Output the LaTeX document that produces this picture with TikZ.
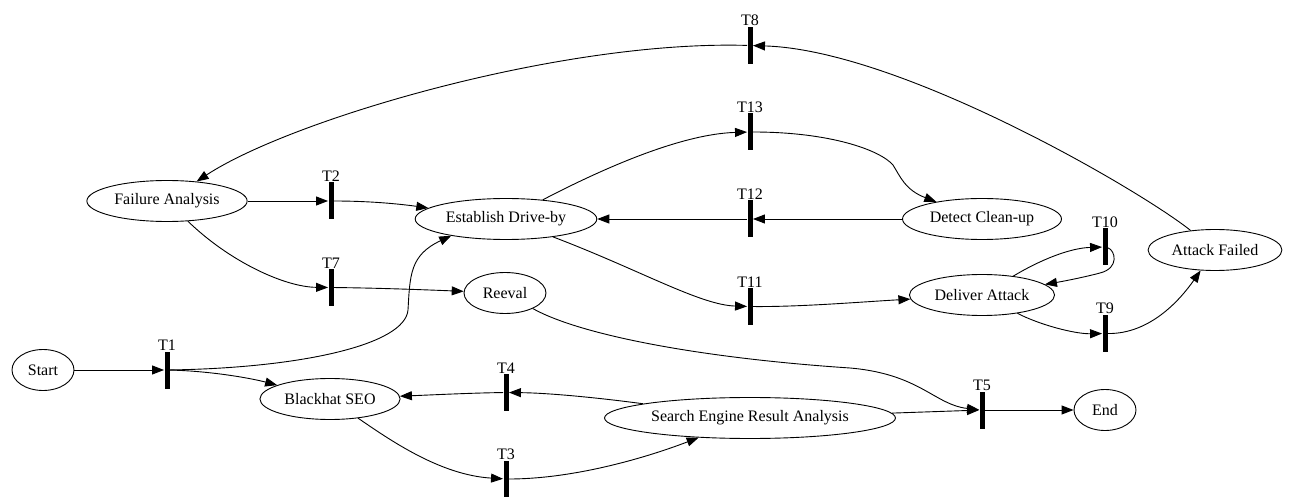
\documentclass[tikz,border=0pt]{standalone}
\usepackage{fontspec}
\setmainfont{Liberation Serif}
\usetikzlibrary{arrows.meta,shapes.geometric}
\tikzset{%
  >={Triangle[length=12pt,width=9pt]},
  % places and transitions of the net
  place/.style = {ellipse, draw=black, inner xsep=4pt, inner ysep=0pt,
    minimum width=62pt, minimum height=41pt},
  trans/.style = {rectangle, fill=black, draw=none, inner sep=0pt,
    minimum width=5pt, minimum height=37pt, label distance=7pt},
}

\begin{document}
\begin{tikzpicture}[x=1pt, y=-1pt, line width=0.9pt,
          every node/.style={font=\fontsize{16}{19}\selectfont},
          every label/.style={inner sep=0pt}]
        \useasboundingbox (0,0) rectangle (1294,497);
        % places
        \node(Start)[place] at (43,370){Start};
        \node(FailAn)[place] at (167,201){Failure Analysis};
        \node(DriveBy)[place] at (506,219){Establish Drive-by};
        \node(Reeval)[place,minimum width=82pt] at (505,293){Reeval};
        \node(Detect)[place] at (982,219){Detect Clean-up};
        \node(Deliver)[place] at (982,295){Deliver Attack};
        \node(AttFail)[place] at (1215,250){Attack Failed};
        \node(Seo)[place] at (330,399){Blackhat SEO};
        \node(Sera)[place] at (750,418){Search Engine Result Analysis};
        \node(End)[place] at (1105,410){End};
        % transitions
        \node(T1)[trans,label=above:T1] at (167,370){};
        \node(T2)[trans,label=above:T2] at (331,201){};
        \node(T3)[trans,label=above:T3] at (506,479){};
        \node(T4)[trans,label=above:T4] at (506,392.5){};
        \node(T5)[trans,label=above:T5] at (982,410){};
        \node(T7)[trans,label=above:T7] at (331,287.5){};
        \node(T8)[trans,label=above:T8] at (750,45.5){};
        \node(T9)[trans,label=above:T9] at (1105,333.5){};
        \node(T10)[trans,label=above:T10] at (1105,247){};
        \node(T11)[trans,label=above:T11] at (750,306.5){};
        \node(T12)[trans,label=above:T12] at (750,219){};
        \node(T13)[trans,label=above:T13] at (750,132){};
        % arcs
        \draw[->](Start) -- (T1);
        \draw[->](T1) .. controls (210,371) and (250,378) .. (Seo);
        \draw[->](T1) .. controls (300,368) and (405,345) .. (408,310)
          .. controls (410,275) and (410,255) .. (DriveBy.197);
        \draw[->](FailAn) -- (T2);
        \draw[->](FailAn) .. controls (230,262) and (285,287) .. (T7);
        \draw[->](T2) .. controls (370,201) and (400,204) .. (DriveBy);
        \draw[->](T7) .. controls (380,288) and (430,290) .. (Reeval);
        \draw[->](DriveBy) .. controls (600,170) and (680,134) .. (T13);
        \draw[->](T13) .. controls (830,132) and (880,150) .. (893,165)
          .. controls (900,176) and (905,190) .. (Detect);
        \draw[->](Detect) -- (T12);
        \draw[->](T12) -- (DriveBy);
        \draw[->](DriveBy) .. controls (640,270) and (700,305) .. (T11);
        \draw[->](T11) .. controls (800,307) and (860,302) .. (Deliver);
        \draw[->](Deliver) .. controls (1040,260) and (1070,248) .. (T10);
        \draw[->](T10) .. controls (1115,250) and (1120,268) .. (1100,273)
          .. controls (1085,277) and (1065,281) .. (Deliver);
        \draw[->](Deliver) .. controls (1040,325) and (1075,334) .. (T9);
        \draw[->](T9) .. controls (1150,334) and (1180,300) .. (AttFail);
        \draw[->](AttFail) .. controls (1140,190) and (900,50) .. (T8);
        \draw[->](T8) .. controls (560,40) and (290,120) .. (FailAn);
        \draw[->](Reeval) .. controls (580,335) and (700,358) .. (850,368)
          .. controls (920,374) and (935,405) .. (T5);
        \draw[->](Sera) -- (T5);
        \draw[->](T5) -- (End);
        \draw[->](Sera) .. controls (600,398) and (550,393) .. (T4);
        \draw[->](T4) .. controls (470,393) and (430,395) .. (Seo);
        \draw[->](Seo) .. controls (390,440) and (440,475) .. (T3);
        \draw[->](T3) .. controls (570,479) and (640,460) .. (Sera);
\end{tikzpicture}
\end{document}
